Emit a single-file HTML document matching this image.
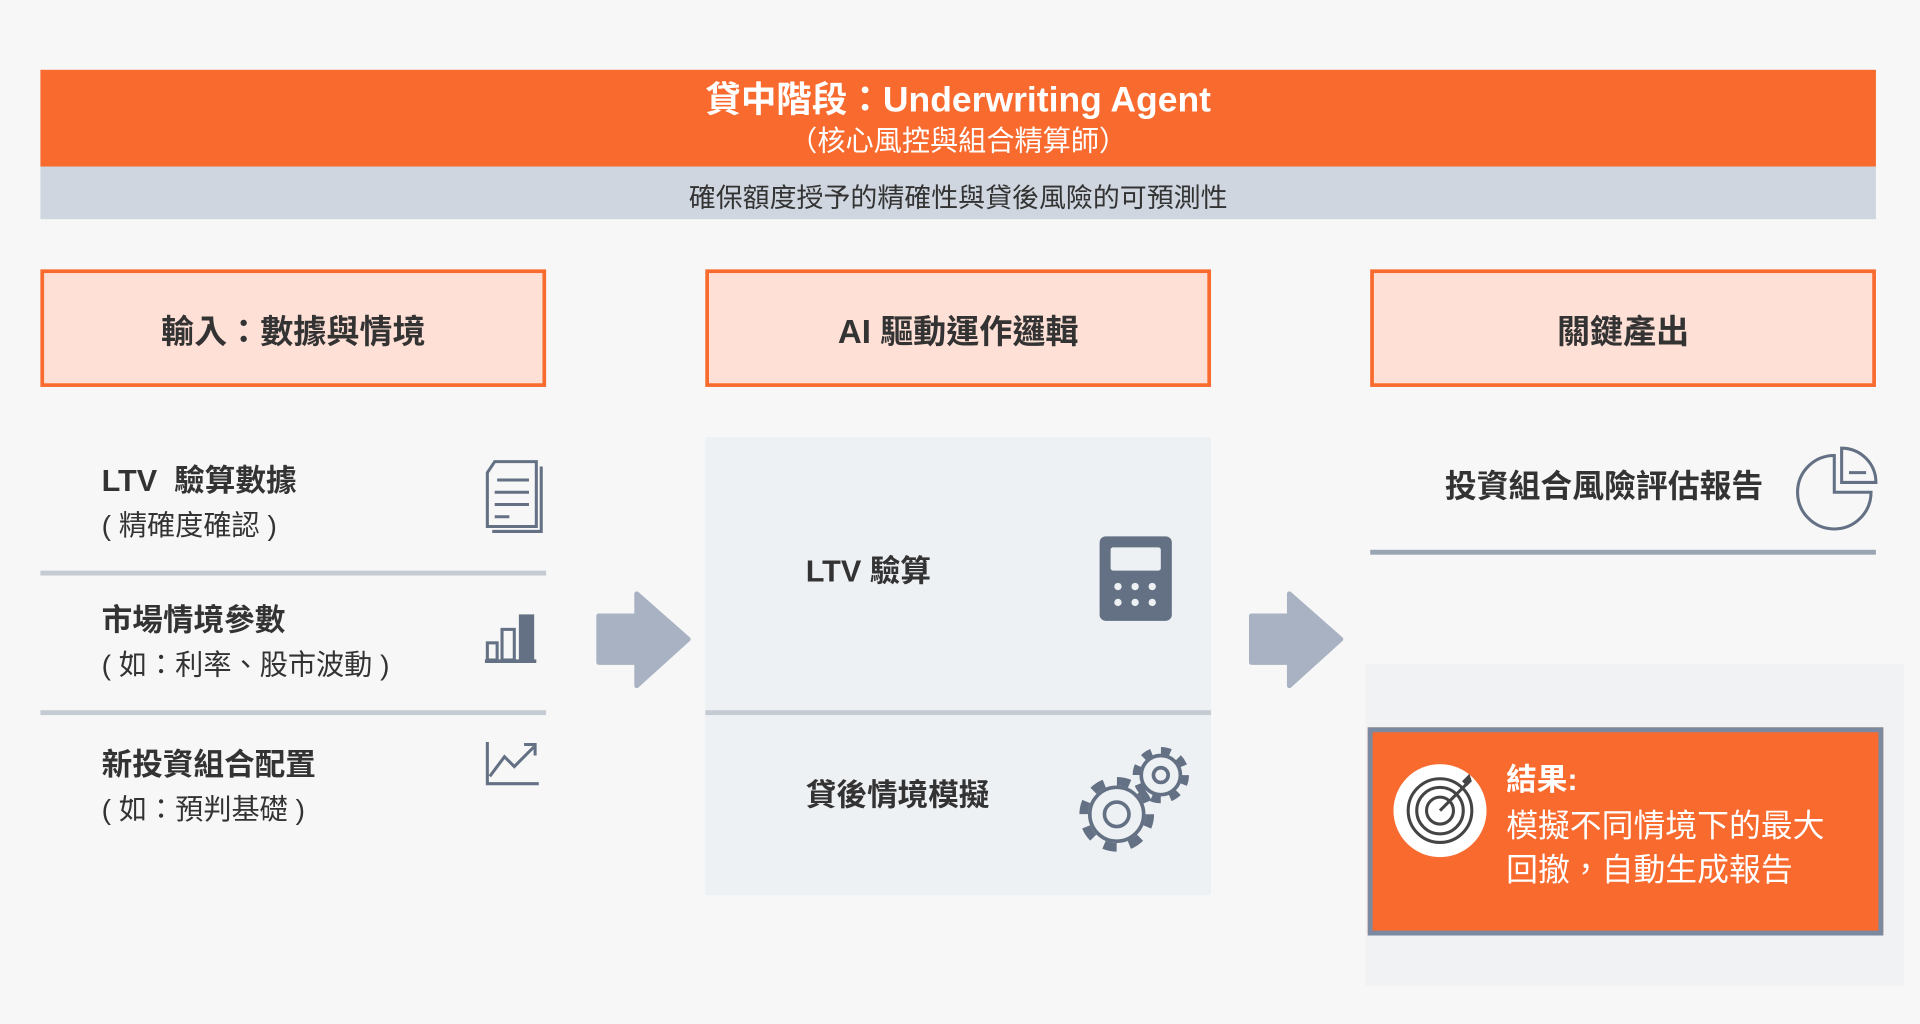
<!DOCTYPE html>
<html><head><meta charset="utf-8"><style>
html,body{margin:0;padding:0;background:#f7f7f7;width:1920px;height:1024px;overflow:hidden}
#s{position:absolute;left:0;top:0;width:1568px;height:836px;transform:scale(1.22449);transform-origin:0 0;font-family:"Liberation Sans","Noto Sans CJK TC",sans-serif;color:#333}
.a{position:absolute}
.hb{position:absolute;top:220px;width:407px;height:90px;background:#ffe0d6;border:3px solid #f86a2e;display:flex;align-items:center;justify-content:center;font-weight:bold;font-size:27px;color:#333}
.t{position:absolute;font-weight:bold;font-size:25px;line-height:30px;white-space:nowrap;color:#333}
.st{position:absolute;font-size:23px;line-height:28px;white-space:nowrap;color:#333}
.ln{position:absolute;height:4px;background:#c5cbd3}
</style></head><body><div id="s">
<div class="a" style="left:33px;top:57px;width:1499px;height:79px;background:#f86a2e"></div>
<div class="a" style="left:33px;top:64px;width:1499px;text-align:center;color:#fff;font-weight:bold;font-size:29px;line-height:36px">貸中階段：Underwriting Agent</div>
<div class="a" style="left:33px;top:101px;width:1499px;text-align:center;color:#fff;font-size:23px;line-height:28px">（核心風控與組合精算師）</div>
<div class="a" style="left:33px;top:136px;width:1499px;height:43px;background:#cfd6df"></div>
<div class="a" style="left:33px;top:148px;width:1499px;text-align:center;font-size:22px;line-height:28px;color:#333">確保額度授予的精確性與貸後風險的可預測性</div>

<div class="hb" style="left:33px">輸入：數據與情境</div>
<div class="hb" style="left:576px">AI 驅動運作邏輯</div>
<div class="hb" style="left:1119px">關鍵產出</div>

<div class="t" style="left:83px;top:378px">LTV&nbsp; 驗算數據</div>
<div class="st" style="left:83px;top:415px">( 精確度確認 )</div>
<div class="ln" style="left:33px;top:466px;width:413px"></div>
<div class="t" style="left:83px;top:492px">市場情境參數</div>
<div class="st" style="left:83px;top:529px">( 如：利率、股市波動 )</div>
<div class="ln" style="left:33px;top:580px;width:413px"></div>
<div class="t" style="left:83px;top:610px">新投資組合配置</div>
<div class="st" style="left:83px;top:647px">( 如：預判基礎 )</div>

<svg class="a" style="left:390px;top:370px" width="60" height="280" viewBox="0 0 60 280" fill="none" stroke="#647184" stroke-width="2.5">
<path d="M14 7 H48 V60 H8 V16 Z"/><path d="M52 11 V64 H12"/><path d="M16 22H42M14 32H42M14 42H42M14 52H26"/>
<rect x="8" y="155" width="8" height="14" stroke-width="2.5"/><rect x="20" y="144" width="10" height="25"/><rect x="35" y="133" width="10" height="36" fill="#647184"/><path d="M6 170H48" stroke-width="3"/>
<path d="M8 236V270H50M10 264L22 248L30 256L46 240M38 238H47V247"/>
</svg>

<svg class="a" style="left:485px;top:483px" width="80" height="80"><path d="M4 20 H35 V2 L77 39 L35 77 V58 H4 Z" fill="#a8b2c2" stroke="#a8b2c2" stroke-linejoin="round" stroke-width="4"/></svg>
<svg class="a" style="left:1018px;top:483px" width="80" height="80"><path d="M4 20 H35 V2 L77 39 L35 77 V58 H4 Z" fill="#a8b2c2" stroke="#a8b2c2" stroke-linejoin="round" stroke-width="4"/></svg>

<div class="a" style="left:576px;top:357px;width:413px;height:374px;background:#eef1f4"></div>
<div class="ln" style="left:576px;top:580px;width:413px"></div>
<div class="t" style="left:658px;top:452px">LTV 驗算</div>
<div class="t" style="left:658px;top:635px">貸後情境模擬</div>
<svg class="a" style="left:880px;top:430px" width="100" height="280">
<rect x="18" y="8" width="59" height="69" rx="5" fill="#647184"/><rect x="27" y="17" width="41" height="19" rx="2" fill="#eef1f4"/>
<g fill="#eef1f4"><circle cx="33" cy="49" r="3"/><circle cx="47" cy="49" r="3"/><circle cx="61" cy="49" r="3"/><circle cx="33" cy="62" r="3"/><circle cx="47" cy="62" r="3"/><circle cx="61" cy="62" r="3"/></g>
<g fill="none" stroke="#647184">
<circle cx="32" cy="235" r="27" stroke-width="7" stroke-dasharray="10.6 10.6"/><circle cx="32" cy="235" r="22" stroke-width="3"/><circle cx="32" cy="235" r="10" stroke-width="3"/>
<circle cx="68" cy="203" r="20" stroke-width="6" stroke-dasharray="7.85 7.85"/><circle cx="68" cy="203" r="16" stroke-width="3"/><circle cx="68" cy="203" r="6" stroke-width="3"/>
</g></svg>

<div class="t" style="left:1180px;top:382px;font-size:26px">投資組合風險評估報告</div>
<svg class="a" style="left:1462px;top:360px" width="76" height="76" fill="none" stroke="#647184" stroke-width="2.5">
<path d="M36 12 A30 30 0 1 0 66 42 H36 Z"/><path d="M42 6 A28 28 0 0 1 70 34 H42 Z"/><path d="M48 26H62"/></svg>
<div class="a" style="left:1119px;top:449px;width:413px;height:4px;background:#9aa5b3"></div>

<div class="a" style="left:1115px;top:542px;width:440px;height:263px;background:#f1f2f4"></div>
<div class="a" style="left:1117px;top:594px;width:413px;height:162px;background:#f86a2e;border:4px solid #7b8aa0"></div>
<svg class="a" style="left:1136px;top:622px" width="80" height="80">
<circle cx="40" cy="40" r="38" fill="#fff"/><g fill="none" stroke="#444" stroke-width="2.5"><circle cx="40" cy="40" r="26"/><circle cx="40" cy="40" r="19"/><circle cx="40" cy="40" r="11"/><path d="M40 40 L62 18"/></g><path d="M58 16 L64 10 L66 16 L62 20Z" fill="#444"/></svg>
<div class="a" style="left:1230px;top:621px;color:#fff;font-weight:bold;font-size:25px;line-height:32px">結果:</div>
<div class="a" style="left:1230px;top:656px;color:#fff;font-size:26px;line-height:36px;white-space:nowrap">模擬不同情境下的最大<br>回撤，自動生成報告</div>
</div></body></html>
